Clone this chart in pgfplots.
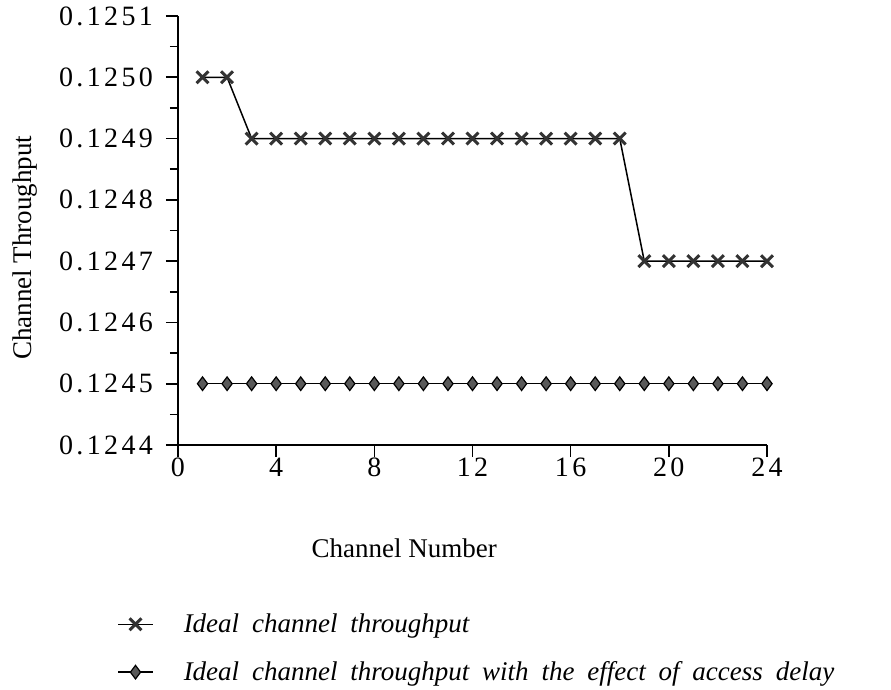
\documentclass[border=0pt]{standalone}
\usepackage{pgfplots}
\pgfplotsset{compat=1.18}
\usepackage{fontspec}
\setmainfont{Liberation Serif}
\newfontfamily\tickfont[LetterSpace=12]{Liberation Serif}
\newfontfamily\legfont[WordSpace=1.9]{Liberation Serif}
\begin{document}
\begin{tikzpicture}[x=0.5pt,y=0.5pt]
\useasboundingbox (-178,-245) rectangle (713,445);
\begin{axis}[
  at={(0,0)}, anchor=origin,
  scale only axis, width=294.5pt, height=214.5pt,
  xmin=0, xmax=24, ymin=0.1244, ymax=0.1251,
  axis lines*=left,
  axis line style={line width=0.8pt},
  xtick={0,4,...,24},
  ytick={0.1244,0.1245,0.1246,0.1247,0.1248,0.1249,0.1250,0.1251},
  minor y tick num=1,
  tick align=outside,
  major tick length=6pt, minor tick length=4pt,
  tick style={line width=0.8pt, black},
  yticklabel style={/pgf/number format/fixed, /pgf/number format/precision=4, /pgf/number format/fixed zerofill, xshift=-3pt},
  scaled y ticks=false,
  /pgf/number format/assume math mode=true,
  ticklabel style={font=\tickfont\fontsize{14}{16}\selectfont},
  xticklabel style={yshift=3pt},
  xlabel={Channel Number},
  ylabel={Channel Throughput},
  label style={font=\fontsize{13.5}{15}\selectfont},
  xlabel style={at={(axis description cs:0.384,-0.24)}, anchor=center},
  ylabel style={at={(axis description cs:-0.26,0.46)}, anchor=center},
  legend style={at={(rel axis cs:-0.114,-0.373)}, anchor=north west, draw=none, fill=none,
    font=\legfont\fontsize{13.5}{15}\selectfont\itshape, row sep=9pt,
    /tikz/column 1/.style={column sep=13pt}},
  legend cell align=left,
  legend image code/.code={\draw[mark repeat=2,mark phase=2,#1] plot coordinates {(0pt,0pt) (8.75pt,0pt) (17.5pt,0pt)};},
]
\addplot[black, line width=0.75pt, mark=x, mark size=4.2pt, mark options={line width=1.5pt, draw=black!80}] coordinates {
(1,0.1250) (2,0.1250) (3,0.1249) (4,0.1249) (5,0.1249) (6,0.1249) (7,0.1249) (8,0.1249)
(9,0.1249) (10,0.1249) (11,0.1249) (12,0.1249) (13,0.1249) (14,0.1249) (15,0.1249) (16,0.1249)
(17,0.1249) (18,0.1249) (19,0.1247) (20,0.1247) (21,0.1247) (22,0.1247) (23,0.1247) (24,0.1247)};
\addlegendentry{Ideal channel throughput}
\addplot[black, line width=0.75pt, mark=diamond*, mark size=3.4pt, mark options={fill=black!65, draw=black, line width=0.6pt}] coordinates {
(1,0.1245) (2,0.1245) (3,0.1245) (4,0.1245) (5,0.1245) (6,0.1245) (7,0.1245) (8,0.1245)
(9,0.1245) (10,0.1245) (11,0.1245) (12,0.1245) (13,0.1245) (14,0.1245) (15,0.1245) (16,0.1245)
(17,0.1245) (18,0.1245) (19,0.1245) (20,0.1245) (21,0.1245) (22,0.1245) (23,0.1245) (24,0.1245)};
\addlegendentry{Ideal channel throughput with the effect of access delay}
\end{axis}
\end{tikzpicture}
\end{document}
